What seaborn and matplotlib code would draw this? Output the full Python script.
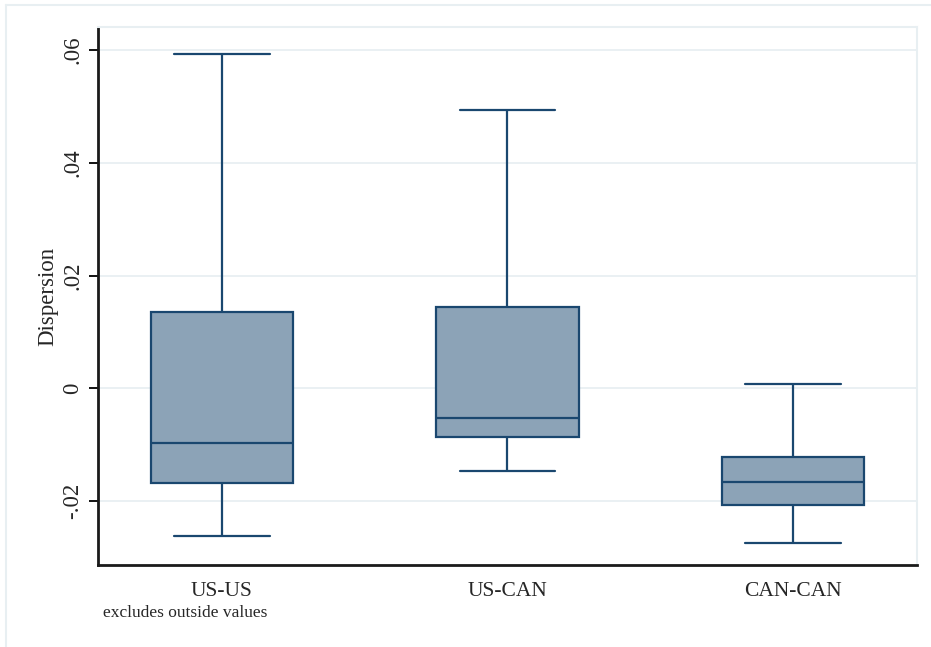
import matplotlib
matplotlib.use("Agg")
import matplotlib.pyplot as plt
from matplotlib.lines import Line2D
import pandas as pd
import seaborn as sns

# five-number summaries (outside values excluded)
pairs = ["US-US", "US-CAN", "CAN-CAN"]
lower_whisker = [-0.0262, -0.0146, -0.0274]
q1 = [-0.0168, -0.0086, -0.0206]
median = [-0.0096, -0.0052, -0.0165]
q3 = [0.0136, 0.0145, -0.0122]
upper_whisker = [0.0594, 0.0494, 0.0008]

ytick_values = [-0.02, 0, 0.02, 0.04, 0.06]
ytick_labels = ["-.02", "0", ".02", ".04", ".06"]

# one row per summary value, so quartiles/min/max of each group are exact
rows = []
for i, p in enumerate(pairs):
    for v in (lower_whisker[i], q1[i], median[i], q3[i], upper_whisker[i]):
        rows.append({"pair": p, "Dispersion": v})
df = pd.DataFrame(rows)

sns.set_style("white")
plt.rcParams["font.family"] = ["Liberation Serif", "DejaVu Serif"]

navy = "#1A476F"
fill = "#8CA3B7"
light = "#E8EFF2"

fig = plt.figure(figsize=(9.31, 6.47), dpi=100)
fig.patch.set_facecolor("white")
ax = fig.add_axes([98 / 931, 1 - 565 / 647, (917 - 98) / 931, (565 - 27) / 647])

sns.boxplot(data=df, x="pair", y="Dispersion", order=pairs, whis=(0, 100),
            width=0.5, color=fill, linecolor=navy, linewidth=1.6,
            saturation=1, capwidths=0.336, ax=ax)

ax.set_xlim(-0.434, 2.434)
ax.set_ylim(-0.0313, 0.0641)

ax.set_yticks(ytick_values)
ax.set_yticklabels(ytick_labels, rotation=90, va="center", fontsize=16.5)
ax.tick_params(axis="y", left=True, length=6.5, width=1.3, color="black", pad=4)
ax.tick_params(axis="x", bottom=False, labelsize=15.5, pad=9)
ax.set_xlabel("")
ax.set_ylabel("Dispersion", fontsize=16.5)
ax.yaxis.set_label_coords(-0.049, 0.5)

ax.set_axisbelow(True)
ax.yaxis.grid(True, color=light, linewidth=1.3)
ax.xaxis.grid(False)

for side in ("left", "bottom"):
    ax.spines[side].set_color("#1a1a1a")
    ax.spines[side].set_linewidth(2.0)
for side in ("top", "right"):
    ax.spines[side].set_color(light)
    ax.spines[side].set_linewidth(1.5)

# outer graph region border (top and left edges visible)
fig.add_artist(Line2D([6 / 931, 1], [1 - 5 / 647, 1 - 5 / 647], color=light, lw=1.5))
fig.add_artist(Line2D([6 / 931, 6 / 931], [0, 1 - 5 / 647], color=light, lw=1.5))

fig.text(103 / 931, 1 - 617 / 647, "excludes outside values", fontsize=12.5,
         ha="left", va="baseline")

fig.savefig("out.png", dpi=100)
